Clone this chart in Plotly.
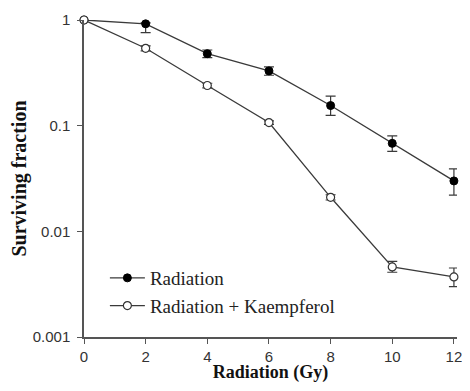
import plotly.graph_objects as go

dose = [0, 2, 4, 6, 8, 10, 12]
x_ticks = [0, 2, 4, 6, 8, 10, 12]
y_tickvals = [0.001, 0.01, 0.1, 1]
y_ticktext = ["0.001", "0.01", "0.1", "1"]

rad = [1.0, 0.92, 0.48, 0.33, 0.155, 0.068, 0.030]
rad_err_up = [0.0, 0.02, 0.04, 0.03, 0.035, 0.012, 0.009]
rad_err_dn = [0.0, 0.16, 0.04, 0.03, 0.03, 0.011, 0.008]

kae = [1.0, 0.54, 0.24, 0.107, 0.021, 0.0046, 0.0037]
kae_err_up = [0.0, 0.03, 0.012, 0.004, 0.0012, 0.0006, 0.0008]
kae_err_dn = [0.0, 0.03, 0.012, 0.004, 0.0012, 0.0005, 0.0007]

line_col = "#3a3a3a"
serif = "Liberation Serif, Times New Roman, serif"
sans = "Liberation Sans, Arial, sans-serif"

fig = go.Figure()
fig.add_trace(go.Scatter(
    x=dose, y=rad, mode="lines+markers", name="Radiation",
    line=dict(color=line_col, width=1.3),
    marker=dict(symbol="circle", size=8, color="black", line=dict(color="black", width=1)),
    error_y=dict(type="data", array=rad_err_up, arrayminus=rad_err_dn, color=line_col, thickness=1.2, width=5),
    cliponaxis=False,
))
fig.add_trace(go.Scatter(
    x=dose, y=kae, mode="lines+markers", name="Radiation + Kaempferol",
    line=dict(color=line_col, width=1.3),
    marker=dict(symbol="circle", size=8, color="white", line=dict(color="#333", width=1.2)),
    error_y=dict(type="data", array=kae_err_up, arrayminus=kae_err_dn, color=line_col, thickness=1.2, width=5),
    cliponaxis=False,
))

fig.update_layout(
    width=454, height=375,
    margin=dict(l=76, r=5, t=12, b=46),
    plot_bgcolor="white", paper_bgcolor="white",
    showlegend=True,
    legend=dict(x=0.056, y=0.246, xanchor="left", yanchor="top",
                bgcolor="rgba(0,0,0,0)", tracegroupgap=0, itemwidth=35,
                font=dict(family=serif, size=19, color="#222")),
    font=dict(family=sans, color="#333"),
)
fig.update_xaxes(
    range=[0, 12.1], tickvals=x_ticks, ticks="outside", ticklen=5, tickcolor="#555",
    showline=True, linecolor="#555", linewidth=1.5, showgrid=False, zeroline=False,
    automargin=False, ticklabelstandoff=0, ticklabeloverflow="allow",
    tickfont=dict(size=15, color="#333", family=sans),
    title=dict(text="<b>Radiation (Gy)</b>", standoff=10,
               font=dict(family=serif, size=18, color="#111")),
)
fig.update_yaxes(
    type="log", range=[-3, 0.0], tickvals=y_tickvals, ticktext=y_ticktext,
    ticks="outside", ticklen=5, tickcolor="#555",
    showline=True, linecolor="#555", linewidth=1.5, showgrid=False, zeroline=False,
    automargin=False, ticklabelstandoff=4,
    tickfont=dict(size=15, color="#333", family=sans),
    title=dict(text="<b>Surviving fraction</b>", standoff=1,
               font=dict(family=serif, size=20, color="#111")),
)

fig.write_html("out.html")
